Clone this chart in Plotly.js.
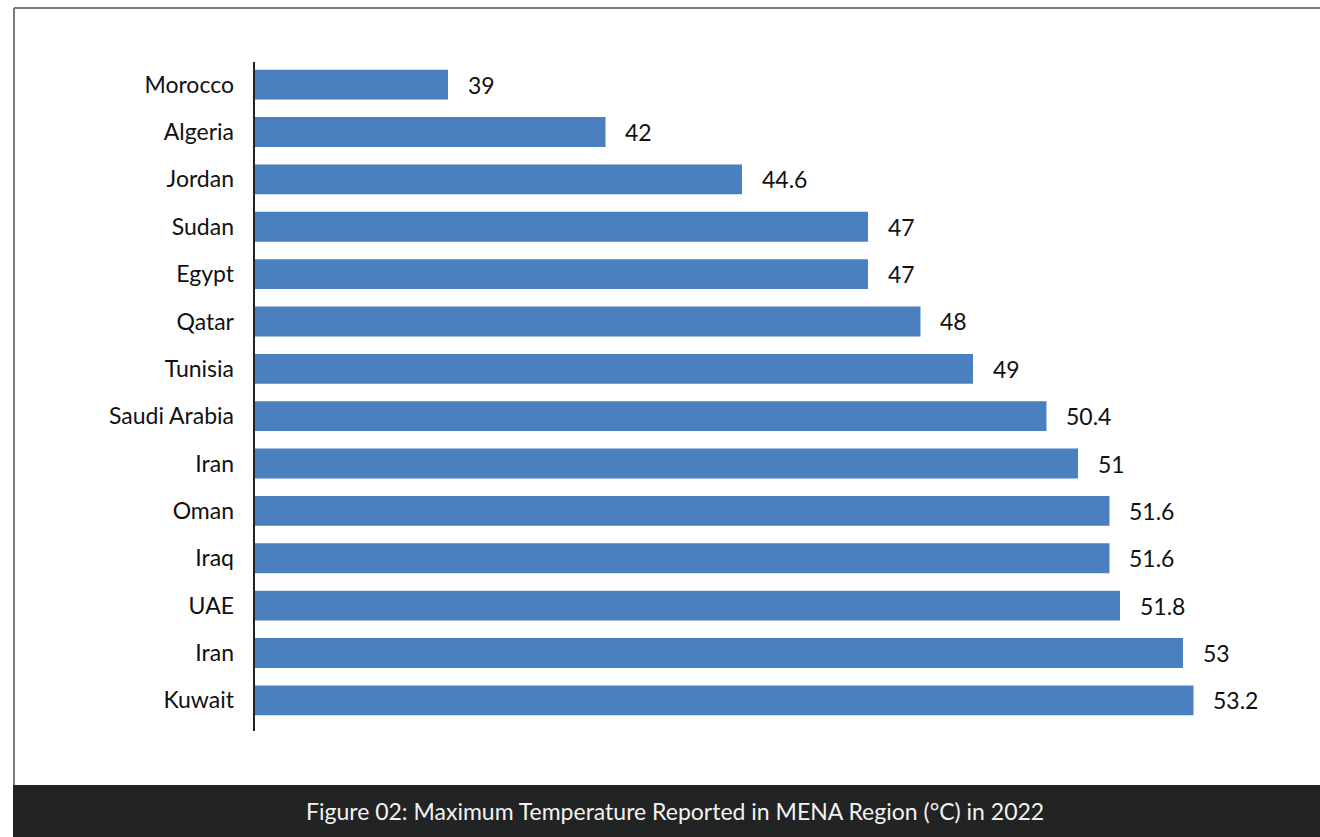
<!DOCTYPE html>
<html>
<head>
<meta charset="utf-8">
<script src="https://cdn.plot.ly/plotly-3.0.1.min.js"></script>
<style>html,body{margin:0;padding:0;background:#fff;}#chart{width:1320px;height:837px;}</style>
</head>
<body>
<div id="chart"></div>
<script>
const countries = ["Morocco","Algeria","Jordan","Sudan","Egypt","Qatar","Tunisia","Saudi Arabia","Iran","Oman","Iraq","UAE","Iran","Kuwait"];
const maxTemps = [39, 42, 44.6, 47, 47, 48, 49, 50.4, 51, 51.6, 51.6, 51.8, 53, 53.2];
const valueLabels = ["39","42","44.6","47","47","48","49","50.4","51","51.6","51.6","51.8","53","53.2"];
const captionText = "Figure 02: Maximum Temperature Reported in MENA Region (°C) in 2022";

const W = 1320, H = 837;
const M = {l: 255, r: 30, t: 61, b: 113};
const pw = W - M.l - M.r, ph = H - M.t - M.b;
const px = x => (x - M.l) / pw;
const py = y => 1 - (y - M.t) / ph;

const idx = countries.map((_, i) => i);
const FONT = "Lato, 'Noto Sans', sans-serif";

const trace = {
  type: "bar",
  orientation: "h",
  x: maxTemps,
  y: idx,
  width: 0.63,
  marker: {color: "#4A7FC0"},
  hoverinfo: "skip"
};

const annotations = maxTemps.map((v, i) => ({
  x: v, y: i, xref: "x", yref: "y",
  text: valueLabels[i], showarrow: false,
  xanchor: "left", yanchor: "middle", xshift: 18,
  font: {family: FONT, size: 23, color: "#111"}
}));
annotations.push({
  x: px(675), y: py(811), xref: "paper", yref: "paper",
  text: captionText, showarrow: false, xanchor: "center", yanchor: "middle",
  font: {family: FONT, size: 23, color: "#f2f2f2"}
});

const shapes = [
  {type: "rect", xref: "paper", yref: "paper", x0: px(13), x1: px(1325), y0: py(785), y1: py(840),
   fillcolor: "#222323", line: {width: 0}, layer: "below"},
  {type: "line", xref: "paper", yref: "paper", x0: px(14), x1: px(14), y0: py(8), y1: py(785),
   line: {color: "#7a7a7a", width: 2}},
  {type: "line", xref: "paper", yref: "paper", x0: px(14), x1: px(1325), y0: py(8), y1: py(8),
   line: {color: "#7a7a7a", width: 2}},
  {type: "line", xref: "paper", yref: "paper", x0: px(254), x1: px(254), y0: py(62), y1: py(731),
   line: {color: "#222", width: 2}}
];

const layout = {
  width: W, height: H,
  margin: M,
  paper_bgcolor: "#fff", plot_bgcolor: "#fff",
  showlegend: false,
  bargap: 0.37,
  xaxis: {range: [35.324, 35.324 + pw / 52.5], visible: false, showgrid: false, zeroline: false, fixedrange: true},
  yaxis: {
    range: [13.5, -0.5], tickmode: "array", tickvals: idx, ticktext: countries,
    showgrid: false, zeroline: false, showline: false, ticks: "", ticklabelstandoff: 20,
    tickfont: {family: FONT, size: 23, color: "#111"}, fixedrange: true
  },
  shapes: shapes,
  annotations: annotations
};

Plotly.newPlot("chart", [trace], layout, {displayModeBar: false, staticPlot: true});
</script>
</body>
</html>
